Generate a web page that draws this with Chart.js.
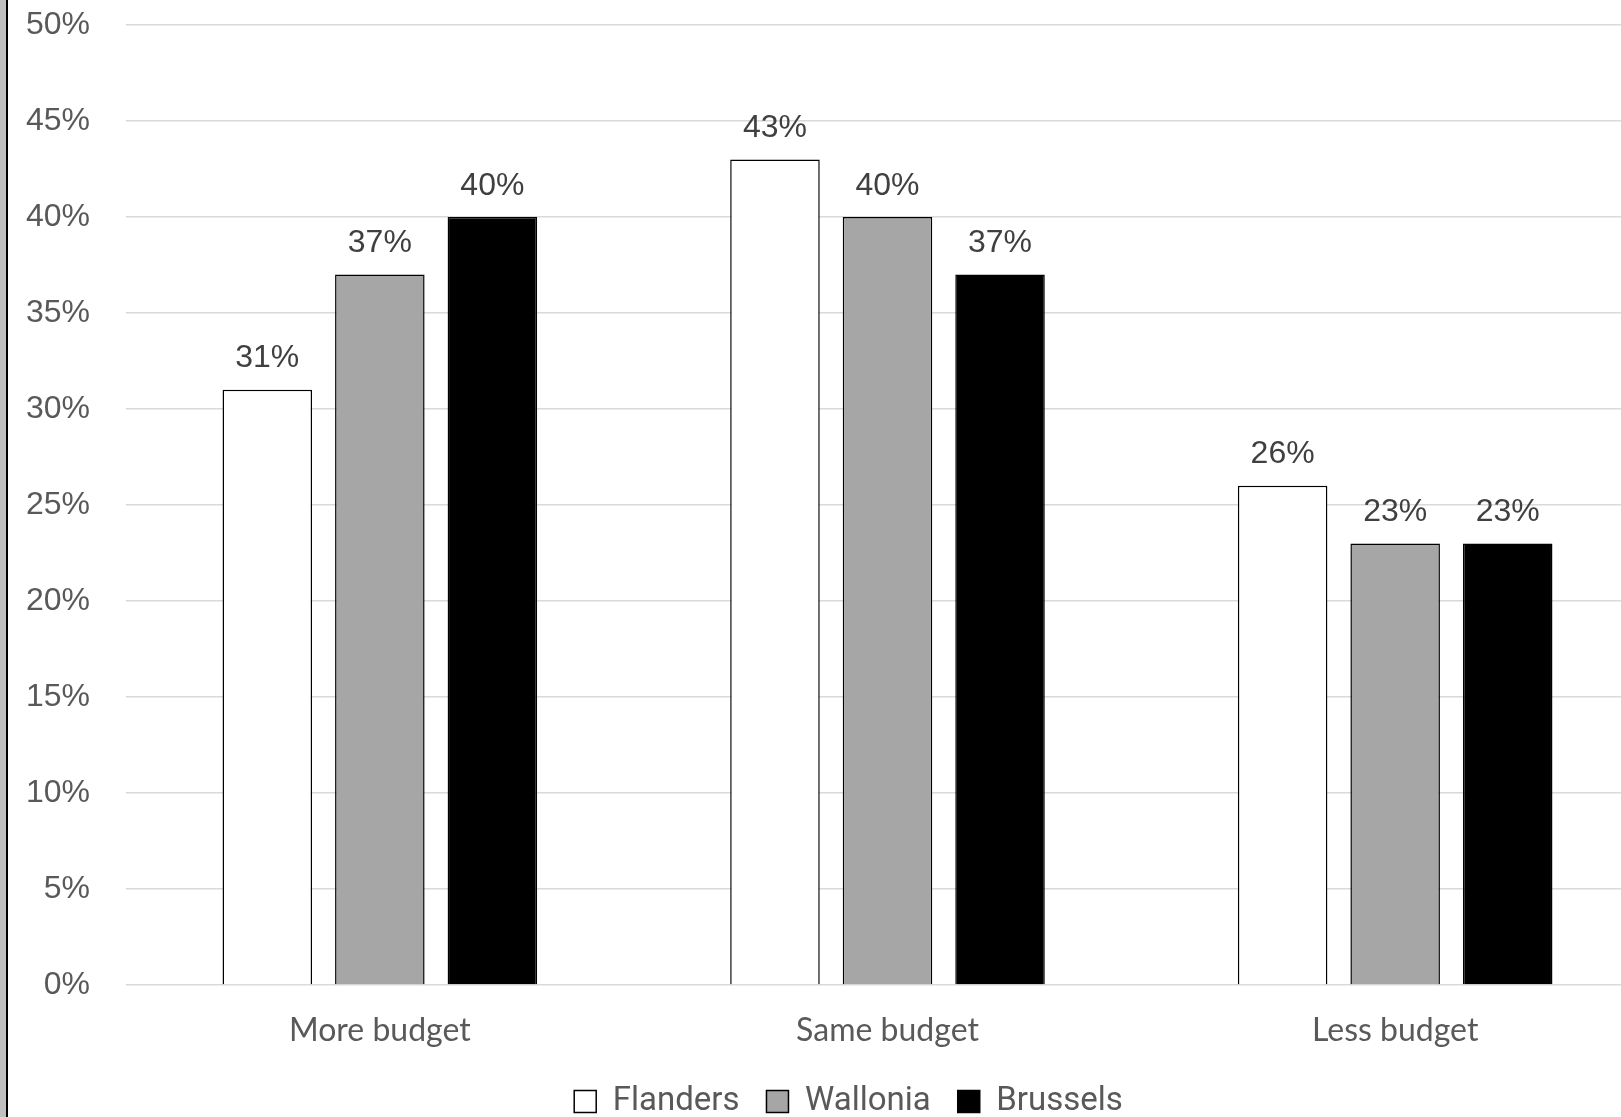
<!DOCTYPE html>
<html>
<head>
<meta charset="utf-8">
<script src="https://cdn.jsdelivr.net/npm/chart.js@4"></script>
<style>
  html, body { margin: 0; padding: 0; background: #ffffff; overflow: hidden; width: 1621px; height: 1117px; }
  #wrap { position: absolute; left: 0; top: 0; width: 1649px; height: 1128px; }
  #stripGray { position: absolute; left: 0; top: 0; width: 6px; height: 1117px; background: #c0c0c0; z-index: 2; }
  #stripBlack { position: absolute; left: 6px; top: 0; width: 2px; height: 1117px; background: #000000; z-index: 2; }
</style>
</head>
<body>
<div id="stripGray"></div>
<div id="stripBlack"></div>
<div id="wrap"><canvas id="c" width="1649" height="1128"></canvas></div>
<script>
const categories = ["More budget", "Same budget", "Less budget"];
const seriesNames = ["Flanders", "Wallonia", "Brussels"];
const flanders = [31, 43, 26];
const wallonia = [37, 40, 23];
const brussels = [40, 37, 23];
const yTicks = [0, 5, 10, 15, 20, 25, 30, 35, 40, 45, 50];

const fillColors = ["#ffffff", "#a6a6a6", "#000000"];

const dataLabels = {
  id: 'dataLabels',
  afterDatasetsDraw(chart) {
    const ctx = chart.ctx;
    ctx.save();
    ctx.font = '32px "Liberation Sans", Arial, sans-serif';
    ctx.fillStyle = '#404040';
    ctx.textAlign = 'center';
    ctx.textBaseline = 'alphabetic';
    chart.data.datasets.forEach((ds, di) => {
      const meta = chart.getDatasetMeta(di);
      meta.data.forEach((bar, i) => {
        ctx.fillText(ds.data[i] + '%', bar.x, bar.y - 22.5);
      });
    });
    ctx.restore();
  }
};

const legendShift = {
  id: 'legendShift',
  afterLayout(chart) {
    if (chart.legend) {
      chart.legend.left += 11;
      chart.legend.right += 11;
    }
  }
};

function zeroPad(axis) {
  axis.paddingLeft = 0;
  axis.paddingRight = 0;
  axis.paddingTop = 0;
  axis.paddingBottom = 0;
}

new Chart(document.getElementById('c'), {
  type: 'bar',
  data: {
    labels: categories,
    datasets: [
      { label: seriesNames[0], data: flanders, backgroundColor: fillColors[0], borderColor: '#000000', borderWidth: 1.5 },
      { label: seriesNames[1], data: wallonia, backgroundColor: fillColors[1], borderColor: '#000000', borderWidth: 1.5 },
      { label: seriesNames[2], data: brussels, backgroundColor: fillColors[2], borderColor: '#000000', borderWidth: 1.5 }
    ]
  },
  options: {
    responsive: false,
    animation: false,
    devicePixelRatio: 1,
    categoryPercentage: 0.665,
    barPercentage: 0.7956,
    layout: { padding: { left: 26, top: 25, right: 0, bottom: 0 } },
    scales: {
      x: {
        grid: { display: false, drawTicks: false },
        border: { display: false },
        ticks: {
          color: '#595959',
          font: { family: 'Lato, "Noto Sans", sans-serif', size: 32 },
          padding: 26.5
        },
        afterFit(axis) { axis.height = 73; zeroPad(axis); }
      },
      y: {
        min: 0,
        max: 50,
        afterBuildTicks(axis) { axis.ticks = yTicks.map(v => ({ value: v })); },
        grid: { color: '#d9d9d9', lineWidth: 1.5, drawTicks: false },
        border: { display: false },
        ticks: {
          color: '#595959',
          font: { family: '"Liberation Sans", Arial, sans-serif', size: 32 },
          padding: 36,
          callback: v => v + '%'
        },
        afterFit(axis) { axis.width = 100; zeroPad(axis); }
      }
    },
    plugins: {
      tooltip: { enabled: false },
      legend: {
        position: 'bottom',
        labels: {
          color: '#595959',
          font: { family: 'Roboto, Lato, sans-serif', size: 33 },
          boxWidth: 22,
          boxHeight: 22,
          padding: 27
        }
      }
    }
  },
  plugins: [dataLabels, legendShift]
});
</script>
</body>
</html>
